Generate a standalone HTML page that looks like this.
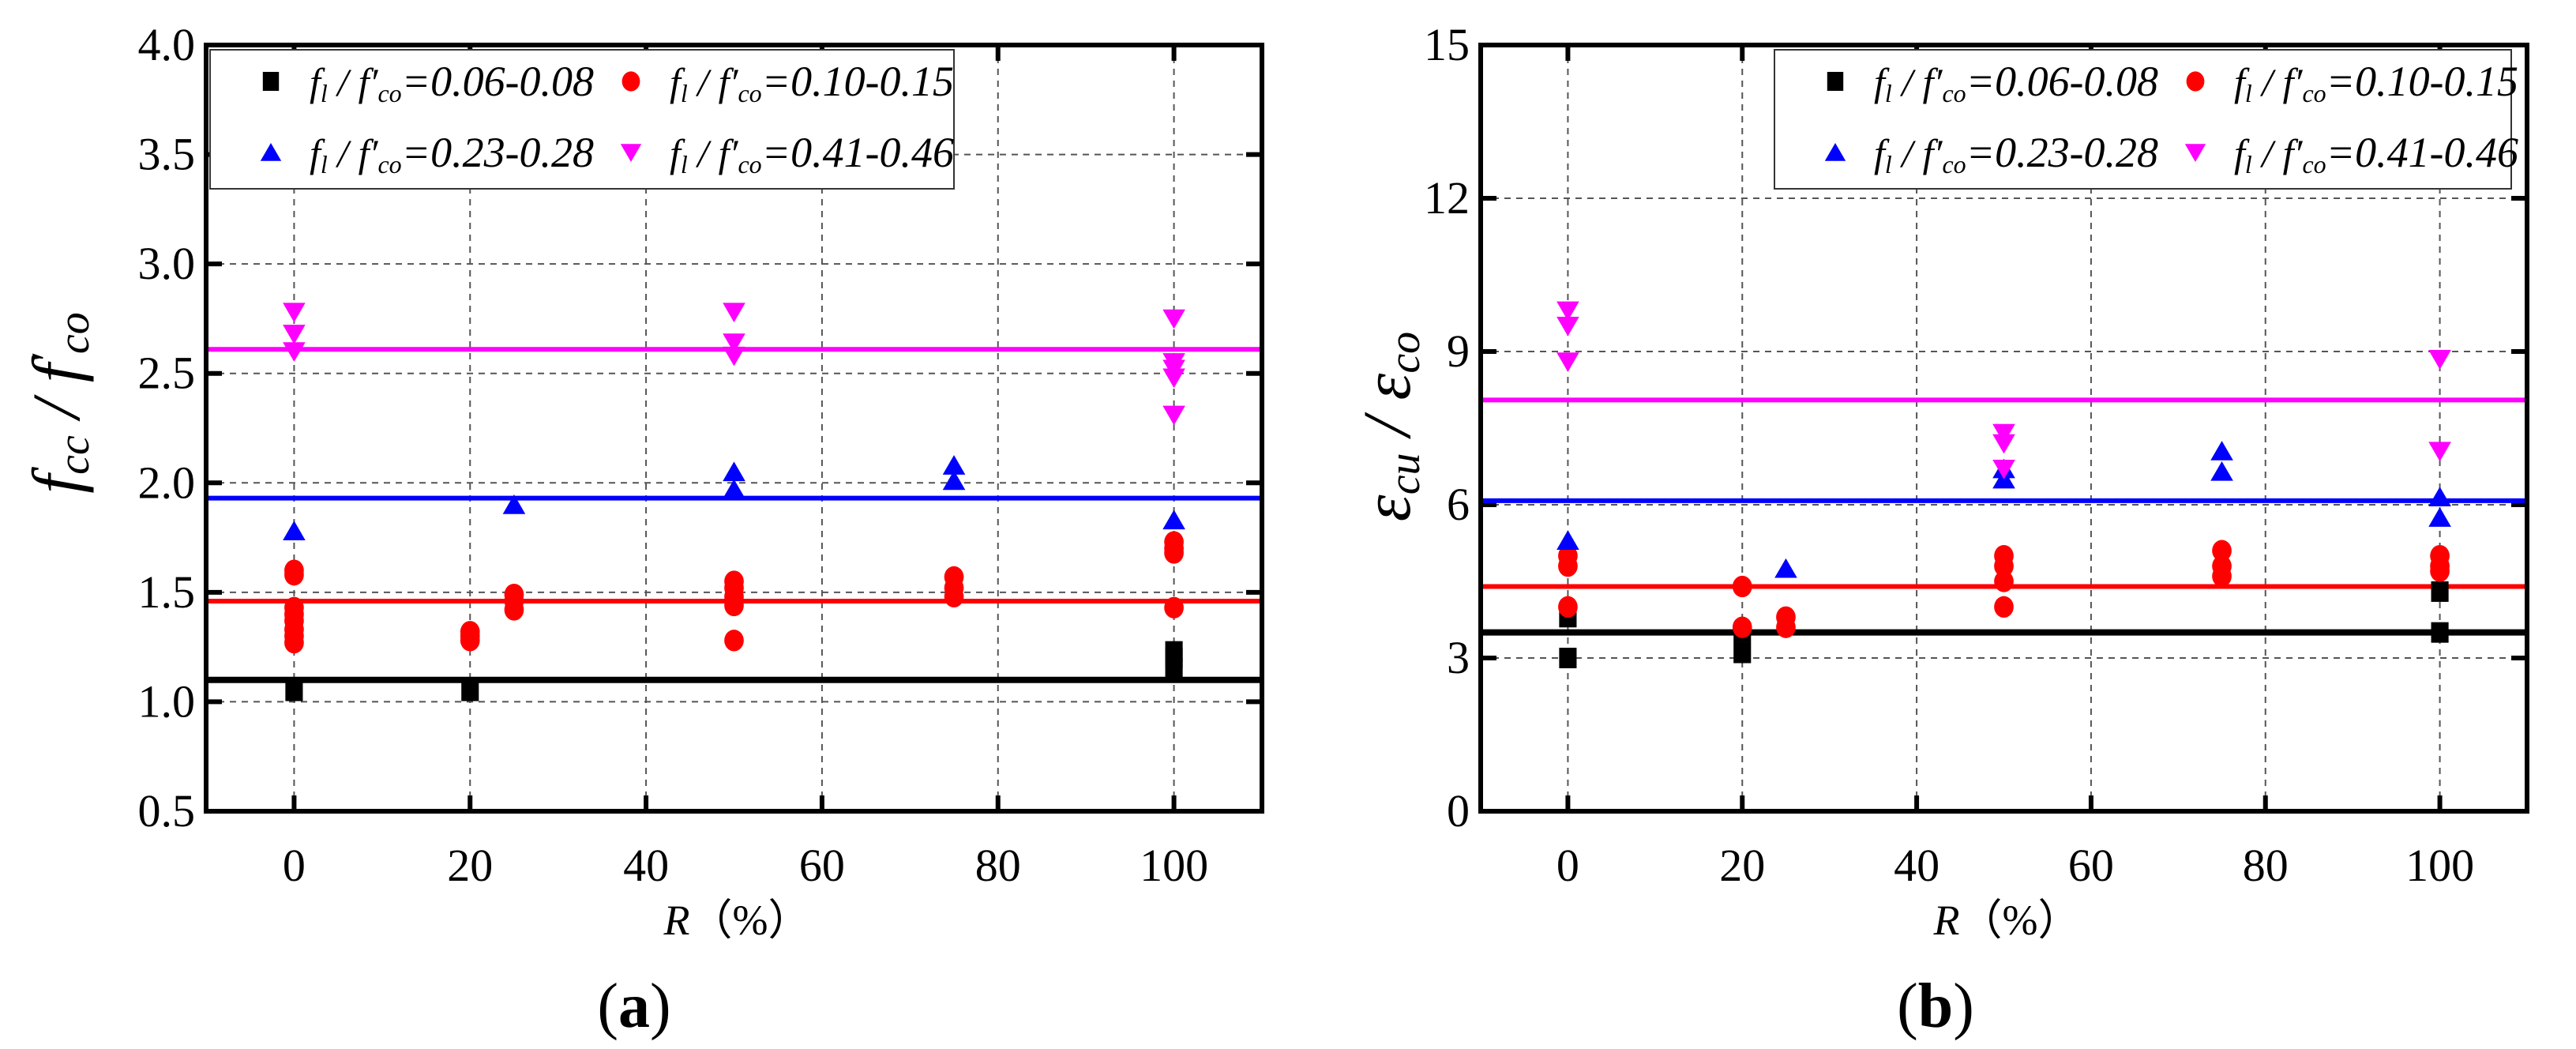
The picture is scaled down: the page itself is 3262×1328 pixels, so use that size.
<!DOCTYPE html>
<html><head><meta charset="utf-8"><style>
html,body{margin:0;padding:0;background:#fff;}
svg{display:block;}
svg text{font-family:"Liberation Serif","DejaVu Serif",serif;}
</style></head><body>
<svg id="fig" width="3262" height="1328" viewBox="0 0 3262 1328" xmlns="http://www.w3.org/2000/svg" font-family="Liberation Serif, DejaVu Serif, serif"></svg>
<script>
// ---- Chart (a) data ----
const aBlackX=[0,20,100,100,100];
const aBlackY=[1.05,1.05,1.15,1.20,1.23];
const aRedX=[0,0,0,0,0,0,0,0,20,20,20,25,25,25,50,50,50,50,50,75,75,75,100,100,100,100];
const aRedY=[1.60,1.58,1.43,1.40,1.37,1.33,1.30,1.27,1.32,1.30,1.28,1.49,1.46,1.42,1.55,1.52,1.48,1.44,1.28,1.57,1.52,1.48,1.73,1.70,1.68,1.43];
const aBlueX=[0,25,50,50,75,75,100];
const aBlueY=[1.78,1.90,2.05,1.97,2.08,2.01,1.83];
const aMagX=[0,0,0,50,50,50,100,100,100,100,100];
const aMagY=[2.78,2.68,2.60,2.78,2.64,2.58,2.75,2.55,2.52,2.48,2.31];
const aFits=[1.10,1.46,1.93,2.61];
const aYTicks=["0.5","1.0","1.5","2.0","2.5","3.0","3.5","4.0"];
// ---- Chart (b) data ----
const bBlackX=[0,0,20,20,100,100];
const bBlackY=[3.8,3.0,3.1,3.5,4.3,3.5];
const bRedX=[0,0,0,20,20,25,25,50,50,50,50,75,75,75,100,100,100];
const bRedY=[5.0,4.8,4.0,4.4,3.6,3.8,3.6,5.0,4.8,4.5,4.0,5.1,4.8,4.6,5.0,4.8,4.7];
const bBlueX=[0,25,50,50,75,75,100,100];
const bBlueY=[5.3,4.75,6.7,6.5,7.05,6.65,6.15,5.75];
const bMagX=[0,0,0,50,50,50,100,100];
const bMagY=[9.8,9.5,8.8,7.4,7.2,6.7,8.85,7.05];
const bFits=[3.5,4.4,6.08,8.05];
const bYTicks=["0","3","6","9","12","15"];
const xTicks=["0","20","40","60","80","100"];
const fitColors=["#000","#ff0000","#0000ff","#ff00ff"];
const legendLabels=["=0.06-0.08","=0.10-0.15","=0.23-0.28","=0.41-0.46"];

const NS="http://www.w3.org/2000/svg";
const svg=document.getElementById('fig');
const FF='"Liberation Serif","DejaVu Serif",serif';
function mk(tag,attrs,parent,text){const e=document.createElementNS(NS,tag);for(const k in attrs)e.setAttribute(k,attrs[k]);if(tag==='text')e.style.fontFamily=FF;if(text!==undefined)e.textContent=text;(parent||svg).appendChild(e);return e;}

function chart(cfg){
  const g=mk('g',{});
  
  
  const L=cfg.L,R=cfg.R,T=57,B=1027;
  const xs=v=>L+(v+10)/120*(R-L);
  const ys=v=>B-(v-cfg.ymin)/(cfg.ymax-cfg.ymin)*(B-T);
  xTicks.forEach(t=>{const x=xs(+t);
    const l=mk('line',{x1:x,x2:x,y1:T,y2:B,stroke:'#555','stroke-width':2,'stroke-dasharray':'8,7'},g);
    
    mk('line',{x1:x,x2:x,y1:B,y2:B-20,stroke:'#000','stroke-width':6},g);
    mk('line',{x1:x,x2:x,y1:T,y2:T+20,stroke:'#000','stroke-width':6},g);
    const tx=mk('text',{x:x,y:B+88,'font-size':58,'text-anchor':'middle'},g,t);
    
  });
  cfg.yt.forEach(t=>{const y=ys(+t);
    const l=mk('line',{x1:L,x2:R,y1:y,y2:y,stroke:'#555','stroke-width':2,'stroke-dasharray':'8,7'},g);
    
    mk('line',{x1:L,x2:L+20,y1:y,y2:y,stroke:'#000','stroke-width':6},g);
    mk('line',{x1:R,x2:R-20,y1:y,y2:y,stroke:'#000','stroke-width':6},g);
    const tx=mk('text',{x:L-14,y:y+19,'font-size':58,'text-anchor':'end'},g,t);
    
  });
  cfg.fits.forEach((v,i)=>{const l=mk('line',{x1:L,x2:R,y1:ys(v),y2:ys(v),stroke:fitColors[i],'stroke-width':i==0?8:6},g);
    });
  const s=13;
  const series=[[cfg.bx,cfg.by,'sq','#000'],[cfg.rx,cfg.ry,'ci','#ff0000'],[cfg.ux,cfg.uy,'up','#0000ff'],[cfg.mx,cfg.my,'dn','#ff00ff']];
  function marker(type,x,y,col,sz,parent){
    let e;
    if(type=='sq')e=mk('rect',{x:x-sz*0.85,y:y-sz,width:sz*1.7,height:sz*2,fill:col},parent);
    else if(type=='ci')e=mk('ellipse',{cx:x,cy:y,rx:sz*0.95,ry:sz*1.05,fill:col},parent);
    else if(type=='up')e=mk('polygon',{points:`${x},${y-sz} ${x+sz*1.1},${y+sz*0.9} ${x-sz*1.1},${y+sz*0.9}`,fill:col},parent);
    else e=mk('polygon',{points:`${x},${y+sz} ${x+sz*1.1},${y-sz*0.9} ${x-sz*1.1},${y-sz*0.9}`,fill:col},parent);
    return e;
  }
  series.forEach(([X,Y,t,c])=>{X.forEach((xv,i)=>{const m=marker(t,xs(xv),ys(Y[i]),c,s,g);
    });});
  mk('rect',{x:L,y:T,width:R-L,height:B-T,fill:'none',stroke:'#000','stroke-width':6},g);
  const lg=mk('g',{},g);
  
  mk('rect',{x:cfg.lx,y:63,width:cfg.lw,height:176,fill:'#fff',stroke:'#333','stroke-width':2},lg);
  const types=['sq','ci','up','dn'];
  for(let i=0;i<4;i++){
    const col=i%2,row=Math.floor(i/2);
    const mx=cfg.lx+77+col*456, my=row?193:103;
    marker(types[i],mx,my,fitColors[i],12,lg);
    const t=mk('text',{x:mx+49,y:my+18,'font-size':50,'font-style':'italic',textLength:360,lengthAdjust:'spacingAndGlyphs'},lg);
    
    mk('tspan',{},t,'f');mk('tspan',{'font-size':32,dy:8},t,'l');
    mk('tspan',{dy:-8},t,' / f′');mk('tspan',{'font-size':32,dy:8},t,'co');
    mk('tspan',{dy:-8,'font-size':54},t,legendLabels[i]);
  }
  const xt=mk('text',{x:(L+R)/2+4,y:1183,'font-size':54,'text-anchor':'middle'},g);
  
  mk('tspan',{'font-style':'italic'},xt,'R');mk('tspan',{},xt,'（%）');
  const yt=mk('text',{x:0,y:0,'font-size':86,'font-style':'italic','text-anchor':'middle',transform:`translate(${cfg.ytx},${cfg.yty}) rotate(-90)`},g);
  
  cfg.ytitle(yt);
  const cap=mk('text',{x:cfg.capx,y:1300,'font-size':80,'text-anchor':'middle'},g);
  
  mk('tspan',{},cap,'(');mk('tspan',{'font-weight':'bold'},cap,cfg.cap);mk('tspan',{},cap,')');
}
chart({name:'chart-a',L:261,R:1598,ymin:0.5,ymax:4.0,yt:aYTicks,fits:aFits,
  bx:aBlackX,by:aBlackY,rx:aRedX,ry:aRedY,ux:aBlueX,uy:aBlueY,mx:aMagX,my:aMagY,
  lx:266,lw:942,ytx:100,yty:510,capx:803,cap:'a',
  ytitle:t=>{mk('tspan',{},t,'f');mk('tspan',{'font-size':56,dy:12},t,'cc');mk('tspan',{dy:-12},t,' / f');mk('tspan',{'font-size':56,dy:-22},t,'′');mk('tspan',{'font-size':56,dy:34},t,'co');}});
chart({name:'chart-b',L:1875,R:3200,ymin:0,ymax:15,yt:bYTicks,fits:bFits,
  bx:bBlackX,by:bBlackY,rx:bRedX,ry:bRedY,ux:bBlueX,uy:bBlueY,mx:bMagX,my:bMagY,
  lx:2247,lw:933,ytx:1785,yty:540,capx:2451,cap:'b',
  ytitle:t=>{mk('tspan',{},t,'ε');mk('tspan',{'font-size':56,dy:12},t,'cu');mk('tspan',{dy:-12},t,' / ε');mk('tspan',{'font-size':56,dy:12},t,'co');}});
</script>
</body></html>
